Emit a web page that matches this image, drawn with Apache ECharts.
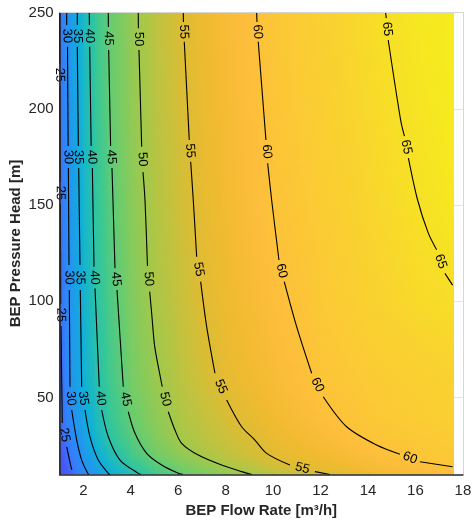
<!DOCTYPE html>
<html>
<head>
<meta charset="utf-8">
<script src="https://cdn.jsdelivr.net/npm/echarts@6/dist/echarts.min.js"></script>
<style>
  html, body { margin: 0; padding: 0; background: #fff; }
  #chart { width: 473px; height: 526px; }
</style>
</head>
<body>
<div id="chart"></div>
<script>
// ---- Surface grid: BEP flow rate [m3/h] x BEP pressure head [m] -> efficiency [%]
const flowRate = [1, 1.25, 1.5, 2, 2.5, 3, 4, 5, 6, 7, 8, 10, 12, 14, 16, 17.57];
const pressureHead = [10, 15, 20, 30, 40, 60, 100, 150, 200, 250];

// efficiency along flowRate, one row per pressure head
const effH10  = [20.4, 22.3, 24.2, 28.2, 31.5, 34.3, 38.4, 41.8, 44.7, 46.6, 48.3, 51.5, 54.4, 56.3, 57.8, 58.8];
const effH15  = [20.7, 23.0, 25.3, 29.8, 33.1, 36.0, 40.6, 44.0, 46.4, 48.4, 50.3, 53.8, 56.0, 57.6, 59.2, 60.3];
const effH20  = [21.2, 23.7, 26.2, 30.9, 34.6, 37.5, 42.1, 45.6, 48.0, 50.2, 51.9, 55.1, 56.9, 58.7, 60.4, 61.0];
const effH30  = [23.5, 25.8, 28.2, 32.7, 36.5, 39.8, 44.0, 47.2, 50.0, 51.6, 53.3, 56.0, 58.1, 60.1, 61.0, 61.6];
const effH40  = [23.8, 26.6, 29.3, 33.9, 37.6, 40.7, 45.1, 48.1, 50.6, 52.4, 54.2, 56.8, 59.1, 60.8, 61.8, 62.4];
const effH60  = [23.7, 27.3, 30.7, 35.6, 39.0, 41.8, 46.1, 49.2, 51.6, 53.7, 55.5, 57.9, 60.3, 61.4, 62.3, 62.8];
const effH100 = [24.3, 27.8, 31.0, 35.9, 39.9, 42.6, 47.0, 50.3, 52.6, 54.9, 56.3, 59.0, 61.0, 62.7, 63.9, 64.6];
const effH150 = [24.6, 28.2, 31.4, 36.5, 40.6, 43.5, 47.8, 51.0, 53.4, 55.5, 57.0, 60.0, 61.6, 63.3, 64.9, 66.0];
const effH200 = [24.85, 28.5, 31.7, 37.1, 41.2, 44.3, 48.4, 51.5, 54.0, 55.9, 57.5, 60.4, 62.1, 63.9, 65.5, 66.5];
const effH250 = [25.0, 29.2, 32.2, 37.5, 41.6, 44.7, 48.7, 51.8, 54.4, 56.3, 57.9, 60.6, 62.5, 64.3, 65.9, 66.7];

// ---- Iso-efficiency lines; each is a list of visible pieces, labels sit in the gaps
const contourLevels = [25, 30, 35, 40, 45, 50, 55, 60, 65];
const contour25 = [
  [[1.0, 250], [1.003, 223.2]],
  [[1.01, 211.8], [1.03, 162.0]],
  [[1.035, 150.5], [1.046, 98.6]],
  [[1.06, 87.1], [1.088, 60], [1.114, 36.8]],
  [[1.299, 24.4], [1.48, 14.0], [1.52, 12.4]]
];
const contour30 = [
  [[1.299, 250], [1.30, 243.5]],
  [[1.333, 232.2], [1.36, 180.6]],
  [[1.37, 169.2], [1.396, 118.8]],
  [[1.409, 105.8], [1.438, 55.6]],
  [[1.51, 43.5], [1.721, 27.9], [1.931, 17.5], [2.184, 10.6], [2.23, 10]]
];
const contour35 = [
  [[1.746, 250], [1.746, 243.5]],
  [[1.746, 232.2], [1.79, 180.6]],
  [[1.805, 169.2], [1.86, 118.8]],
  [[1.872, 105.8], [1.931, 55.6]],
  [[2.07, 43.5], [2.281, 29.6], [2.631, 17.5], [3.052, 10.6], [3.13, 10]]
];
const contour40 = [
  [[2.252, 250], [2.255, 243.5]],
  [[2.268, 232.2], [2.33, 180.6]],
  [[2.38, 169.2], [2.45, 117.9]],
  [[2.492, 106.7], [2.673, 55.6]],
  [[2.774, 43.5], [3.052, 29.6], [3.545, 17.5], [4.316, 10.6], [4.43, 10]]
];
const contour45 = [
  [[3.052, 250], [3.055, 242.5]],
  [[3.069, 230.5], [3.15, 180.6]],
  [[3.208, 169.2], [3.335, 117.1]],
  [[3.419, 105.8], [3.684, 55.6]],
  [[3.895, 42.6], [4.177, 31.4], [4.67, 21.0], [5.303, 14.9], [6.002, 10.6], [6.2, 10]]
];
const contour50 = [
  [[4.316, 250], [4.32, 241.8]],
  [[4.346, 230.5], [4.46, 180.3]],
  [[4.515, 167.1], [4.599, 152.6], [4.704, 118.3]],
  [[4.797, 105.0], [4.88, 93.9], [5.01, 76.4], [5.27, 59.1], [5.328, 55.6]],
  [[5.581, 42.6], [5.863, 33.1], [6.145, 26.2], [6.845, 20.1], [7.831, 14.9], [8.674, 11.5], [9.1, 10]]
];
const contour55 = [
  [[6.213, 250], [6.22, 245.1]],
  [[6.255, 234.8], [6.466, 183.8]],
  [[6.525, 172.5], [6.634, 152.6], [6.778, 123.1]],
  [[6.946, 110.2], [7.199, 86.8], [7.549, 62.6]],
  [[8.042, 48.7], [8.674, 34.8], [9.234, 27.9], [9.727, 21.0], [10.709, 14.9]],
  [[11.763, 11.5], [12.395, 10]]
];
const contour60 = [
  [[9.306, 250], [9.32, 245.1]],
  [[9.373, 234.8], [9.698, 183.8]],
  [[9.77, 171.7], [9.938, 152.6], [10.246, 121.4]],
  [[10.469, 110.2], [10.992, 86.8], [11.624, 62.6]],
  [[12.113, 50.4], [13.099, 34.8], [14.363, 25.3], [15.345, 20.5]],
  [[16.187, 16.6], [17.566, 14.0]]
];
const contour65 = [
  [[14.742, 250], [14.77, 247.1]],
  [[14.852, 235.7], [15.374, 194.2], [15.534, 185.8]],
  [[15.703, 174.4], [16.091, 152.6], [16.537, 135.5], [16.891, 126.8]],
  [[17.241, 114.5], [17.566, 108.4]]
];
const contourLines = [contour25, contour30, contour35, contour40, contour45,
                      contour50, contour55, contour60, contour65];

// ---- Axis ticks
const xTicks = [2, 4, 6, 8, 10, 12, 14, 16, 18];
const yTicks = [50, 100, 150, 200, 250];

// ---- parula colour map, key stops [t, r, g, b]
const PARULA = [
  [0.000, 0.2422, 0.1504, 0.6603],
  [0.078, 0.2717, 0.2585, 0.9039],
  [0.156, 0.2783, 0.3563, 0.9777],
  [0.235, 0.1997, 0.5007, 0.9820],
  [0.313, 0.1266, 0.5923, 0.9286],
  [0.391, 0.0597, 0.6919, 0.8453],
  [0.500, 0.2087, 0.7812, 0.5953],
  [0.586, 0.4475, 0.8004, 0.4061],
  [0.664, 0.6584, 0.7823, 0.2830],
  [0.742, 0.8639, 0.7375, 0.2036],
  [0.781, 0.9449, 0.7305, 0.1863],
  [0.820, 0.9923, 0.7425, 0.2367],
  [0.898, 0.9766, 0.8295, 0.1822],
  [0.957, 0.9606, 0.9175, 0.1198],
  [1.000, 0.9769, 0.9839, 0.0805]
];
const C_MIN = 14, C_MAX = 68.7;

function parula(v) {
  let t = (v - C_MIN) / (C_MAX - C_MIN);
  t = Math.min(1, Math.max(0, t));
  let i = 0;
  while (i < PARULA.length - 2 && t > PARULA[i + 1][0]) i++;
  const a = PARULA[i], b = PARULA[i + 1];
  const u = (t - a[0]) / (b[0] - a[0]);
  const c = [1, 2, 3].map(k => Math.round(255 * (a[k] + (b[k] - a[k]) * u)));
  return 'rgb(' + c.join(',') + ')';
}

// cells of the surface: corners (q0,h0)-(q1,h1) with their four efficiencies
const effRows = [effH10, effH15, effH20, effH30, effH40, effH60, effH100, effH150, effH200, effH250];
const cells = [];
for (let j = 0; j < pressureHead.length - 1; j++) {
  for (let i = 0; i < flowRate.length - 1; i++) {
    cells.push([flowRate[i], pressureHead[j], flowRate[i + 1], pressureHead[j + 1],
                effRows[j][i], effRows[j][i + 1], effRows[j + 1][i], effRows[j + 1][i + 1]]);
  }
}

// interpolated shading inside a cell: pixel-aligned rows, each a horizontal gradient
function renderCell(params, api) {
  const q0 = api.value(0), h0 = api.value(1), q1 = api.value(2), h1 = api.value(3);
  const e00 = api.value(4), e10 = api.value(5), e01 = api.value(6), e11 = api.value(7);
  const pA = api.coord([q0, h0]);
  const pB = api.coord([q1, h1]);
  const x0 = Math.floor(pA[0]), x1 = Math.ceil(pB[0]);
  const yBot = pA[1], yTop = pB[1];
  const h = yBot - yTop;
  const top = Math.floor(yTop), bot = Math.ceil(yBot);
  const children = [];
  for (let y = bot - 2; y >= top - 1; y -= 2) {
    const t = Math.min(1, Math.max(0, (yBot - (y + 1)) / h));
    const vl = e00 + (e01 - e00) * t;
    const vr = e10 + (e11 - e10) * t;
    const stops = [];
    for (let s = 0; s <= 6; s++) {
      const f = s / 6;
      stops.push({ offset: f, color: parula(vl + (vr - vl) * f) });
    }
    children.push({
      type: 'rect',
      shape: { x: x0, y: y, width: x1 - x0 + 1, height: 3 },
      style: { fill: new echarts.graphic.LinearGradient(0, 0, 1, 0, stops) },
      silent: true
    });
  }
  return { type: 'group', children: children };
}

// contour pieces and label gaps
const pieceItems = [];
const gapItems = [];
contourLines.forEach((pieces, li) => {
  pieces.forEach((piece, pi) => {
    pieceItems.push([piece[0][0], piece[0][1], li, pi]);
    if (pi < pieces.length - 1) {
      const a = piece[piece.length - 1], b = pieces[pi + 1][0];
      gapItems.push([(a[0] + b[0]) / 2, (a[1] + b[1]) / 2, li, pi]);
    }
  });
});

function renderPiece(params, api) {
  const piece = contourLines[api.value(2)][api.value(3)];
  const pts = piece.map(p => api.coord(p));
  return {
    type: 'polyline',
    shape: { points: pts, smooth: 0.3 },
    style: { stroke: '#000', lineWidth: 1.1, fill: null },
    silent: true
  };
}

function renderLabel(params, api) {
  const li = api.value(2), pi = api.value(3);
  const pieces = contourLines[li];
  const a = api.coord(pieces[pi][pieces[pi].length - 1]);
  const b = api.coord(pieces[pi + 1][0]);
  let ang = Math.atan2(-(b[1] - a[1]), b[0] - a[0]);
  if (ang > Math.PI / 2) ang -= Math.PI;
  if (ang < -Math.PI / 2) ang += Math.PI;
  return {
    type: 'text',
    x: (a[0] + b[0]) / 2,
    y: (a[1] + b[1]) / 2,
    rotation: ang,
    style: {
      text: String(contourLevels[li]),
      fill: '#000',
      font: '13px "Liberation Sans", Arial, sans-serif',
      align: 'center',
      verticalAlign: 'middle'
    },
    silent: true
  };
}

const AX = '#262626';
const FONT = '"Liberation Sans", Arial, Helvetica, sans-serif';
const chart = echarts.init(document.getElementById('chart'), null, { renderer: 'canvas' });

const bareAxis = (pos, color, width) => ({
  type: 'value', min: pos === 'top' || pos === 'bottom' ? 1 : 10,
  max: pos === 'top' || pos === 'bottom' ? 18 : 250,
  position: pos, z: 10,
  axisLine: { show: true, onZero: false, lineStyle: { color: color, width: width } },
  axisTick: { show: false }, axisLabel: { show: false }, splitLine: { show: false }
});

chart.setOption({
  animation: false,
  backgroundColor: '#ffffff',
  textStyle: { fontFamily: FONT },
  grid: { left: 59.6, right: 10.1, top: 12.5, bottom: 51.5, containLabel: false, outerBoundsMode: 'none' },
  xAxis: [
    {
      type: 'value', min: 1, max: 18, position: 'bottom', z: 0,
      axisLine: { show: false },
      axisTick: { show: true, inside: true, length: 5, customValues: xTicks, lineStyle: { color: AX } },
      axisLabel: { customValues: xTicks, margin: 9, color: AX, fontSize: 15, fontFamily: FONT },
      splitLine: { show: false },
      name: 'BEP Flow Rate [m³/h]', nameLocation: 'middle', nameGap: 29, nameMoveOverlap: false,
      nameTextStyle: { fontWeight: 'bold', fontSize: 15, color: AX, fontFamily: FONT }
    },
    bareAxis('bottom', AX, 1.5),
    bareAxis('top', '#d6d6d6', 1)
  ],
  yAxis: [
    {
      type: 'value', min: 10, max: 250, position: 'left', z: 0,
      axisLine: { show: false },
      axisTick: { show: true, inside: true, length: 5, customValues: yTicks, lineStyle: { color: AX } },
      axisLabel: { customValues: yTicks, margin: 6, color: AX, fontSize: 15, fontFamily: FONT },
      splitLine: { show: true, lineStyle: { color: '#e3e3e3', width: 1 } },
      name: 'BEP Pressure Head [m]', nameLocation: 'middle', nameGap: 36, nameMoveOverlap: false,
      nameTextStyle: { fontWeight: 'bold', fontSize: 15, color: AX, fontFamily: FONT }
    },
    bareAxis('left', AX, 1.5),
    bareAxis('right', '#d6d6d6', 1)
  ],
  series: [
    {
      type: 'custom', name: 'efficiency', coordinateSystem: 'cartesian2d',
      xAxisIndex: 0, yAxisIndex: 0, z: 1, clip: true,
      renderItem: renderCell, data: cells
    },
    {
      type: 'custom', name: 'contours', coordinateSystem: 'cartesian2d',
      xAxisIndex: 0, yAxisIndex: 0, z: 3, clip: false,
      renderItem: renderPiece, data: pieceItems
    },
    {
      type: 'custom', name: 'contour labels', coordinateSystem: 'cartesian2d',
      xAxisIndex: 0, yAxisIndex: 0, z: 4, clip: false,
      renderItem: renderLabel, data: gapItems
    }
  ]
});
</script>
</body>
</html>
